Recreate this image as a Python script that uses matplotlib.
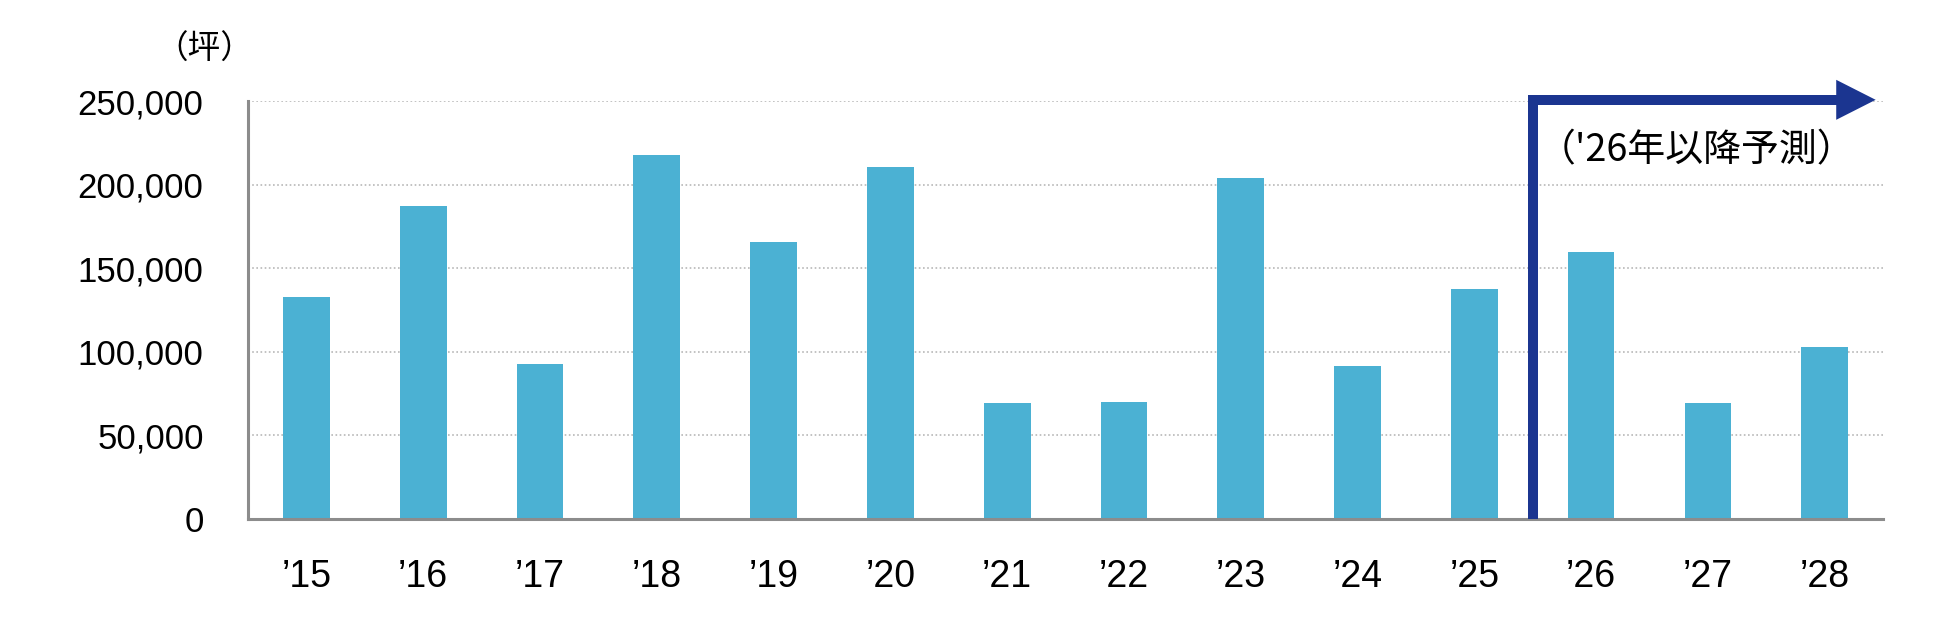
import matplotlib
matplotlib.use("Agg")
import matplotlib.pyplot as plt
from matplotlib.ticker import FuncFormatter

years = ["\u201915", "\u201916", "\u201917", "\u201918", "\u201919", "\u201920", "\u201921",
         "\u201922", "\u201923", "\u201924", "\u201925", "\u201926", "\u201927", "\u201928"]
area = [133000, 187500, 92800, 218000, 166000, 211000, 69500,
        69900, 204000, 91500, 137700, 160000, 69300, 102800]
yticks = [0, 50000, 100000, 150000, 200000, 250000]
unit_label = "（坪）"
forecast_label = "（'26年以降予測）"

plt.rcParams['font.family'] = ['Liberation Sans', 'Noto Sans CJK JP']

bar_color = "#4BB1D3"
arrow_color = "#1B3590"

fig = plt.figure(figsize=(19.5, 6.28), dpi=100)
ax = fig.add_axes([0.1272, 0.1736, 0.8385, 0.6648])

x = list(range(len(years)))
ax.bar(x, area, width=0.4, color=bar_color, zorder=3)

ax.set_xlim(-0.5, len(years) - 0.5)
ax.set_ylim(0, 250000)
ax.set_yticks(yticks)
ax.yaxis.set_major_formatter(FuncFormatter(lambda v, p: f"{int(v):,}"))
ax.set_xticks(x)
ax.set_xticklabels(years, family=['Liberation Sans Narrow', 'Liberation Sans'], fontsize=27)
ax.tick_params(axis='y', labelsize=25, length=0, pad=32)
ax.tick_params(axis='x', length=0, pad=29)

ax.grid(axis='y', color='#b8b8b8', linestyle=(0, (1, 1.5)), linewidth=1.2, zorder=0)
for s in ['top', 'right']:
    ax.spines[s].set_visible(False)
for s in ['left', 'bottom']:
    ax.spines[s].set_color('#8c8c8c')
    ax.spines[s].set_linewidth(2.2)
    ax.spines[s].set_zorder(4)

# forecast arrow
xv, ytop, xend, xtip = 10.5, 251000, 13.13, 13.46
ax.plot([xv, xv, xend], [0, ytop, ytop], color=arrow_color, lw=7.2,
        solid_joinstyle='miter', solid_capstyle='butt', clip_on=False, zorder=5)
ax.annotate('', xy=(xtip, ytop), xytext=(xend - 0.05, ytop),
            arrowprops=dict(arrowstyle='-|>,head_length=1.42,head_width=0.72',
                            mutation_scale=20, color=arrow_color, lw=0),
            annotation_clip=False, zorder=5)
ax.text(10.54, 220500, forecast_label, fontsize=27.3, va='center', ha='left',
        family=['Noto Sans CJK JP'], zorder=6)

fig.text(155 / 1950, 1 - 50 / 628, unit_label, fontsize=23.5, va='center', ha='left',
         family=['Noto Sans CJK JP'])

fig.savefig("out.png", dpi=100)
